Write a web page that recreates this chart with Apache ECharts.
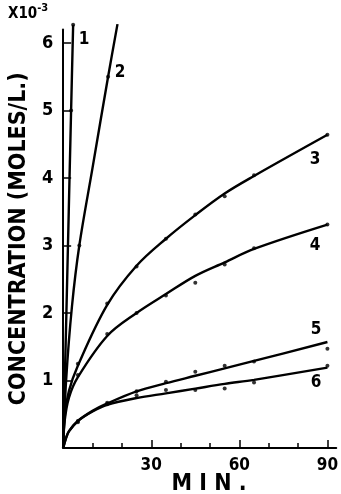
<!DOCTYPE html>
<html lang="en">
<head>
    <meta charset="UTF-8">
    <title>Concentration vs time</title>
    <script type="text/javascript" src="https://cdn.jsdelivr.net/npm/echarts@6/dist/echarts.min.js"></script>
</head>
<body style="margin:0">
    <div id="main" style="width: 341px; height: 494px;"></div>
    <script type="text/javascript">
        // minutes / concentration (x10^-3 mol/L)
        var curve1Time = [0, 1.1, 2.7, 3.4];
        var curve1Line = [0, 2.0, 5.0, 6.27];
        var curve1DotTime = [2.7, 3.4];
        var curve1Dots = [5.0, 6.27];

        var curve2Time = [0, 1, 3, 5.5, 10, 15.3, 18.5];
        var curve2Line = [0, 1.0, 2.1, 3.0, 4.15, 5.5, 6.28];
        var curve2DotTime = [5.5, 15.3];
        var curve2Dots = [3.0, 5.5];

        var curve34Time = [0, 0.5, 2, 5, 15, 25, 35, 45, 55, 65, 90];
        var curve3Line = [0, 0.45, 0.85, 1.22, 2.12, 2.7, 3.1, 3.45, 3.77, 4.03, 4.64];
        var curve4Line = [0, 0.4, 0.75, 1.05, 1.66, 2.0, 2.28, 2.55, 2.75, 2.95, 3.31];

        var curve56Time = [0, 1, 2, 5, 10, 15, 25, 35, 45, 55, 65, 90];
        var curve5Line = [0, 0.15, 0.25, 0.4, 0.55, 0.66, 0.84, 0.96, 1.07, 1.18, 1.29, 1.57];
        var curve6Line = [0, 0.15, 0.25, 0.4, 0.54, 0.64, 0.74, 0.81, 0.88, 0.95, 1.01, 1.19];

        var dotTime = [5, 15, 25, 35, 45, 55, 65, 90];
        var curve3Dots = [1.25, 2.14, 2.69, 3.10, 3.46, 3.73, 4.04, 4.64];
        var curve4Dots = [1.08, 1.69, 2.0, 2.26, 2.45, 2.72, 2.96, 3.31];
        var curve5Dots = [0.4, 0.67, 0.84, 0.98, 1.13, 1.22, 1.28, 1.47];
        var curve6Dots = [0.38, 0.65, 0.78, 0.86, 0.86, 0.88, 0.97, 1.22];

        var yTicks = [1, 2, 3, 4, 5, 6];
        var xMajor = [30, 60, 90];
        var xMinor = [10, 20, 40, 50, 70, 80];

        var font = "'Liberation Sans Narrow', 'DejaVu Sans Condensed', 'Liberation Sans', sans-serif";

        function pairs(xs, ys) {
            return xs.map(function(x, i) { return [x, ys[i]]; });
        }

        function lineSeries(xs, ys) {
            return {
                type: 'line',
                data: pairs(xs, ys),
                smooth: 0.35,
                showSymbol: false,
                clip: false,
                lineStyle: { color: '#000', width: 2.4 },
                silent: true
            };
        }

        function dotSeries(xs, ys) {
            return {
                type: 'scatter',
                data: pairs(xs, ys),
                symbolSize: 4,
                clip: false,
                itemStyle: { color: '#000' },
                silent: true
            };
        }

        var chartDom = document.getElementById('main');
        var myChart = echarts.init(chartDom);
        var option;

        option = {
            animation: false,
            backgroundColor: '#fff',
            grid: { left: 61, right: 4, top: 29.5, bottom: 46 },
            xAxis: [{
                type: 'value',
                min: 0,
                max: 93,
                splitLine: { show: false },
                axisLine: { lineStyle: { color: '#000', width: 2 } },
                axisTick: { inside: true, length: 8, lineStyle: { color: '#000', width: 1.5 }, customValues: xMajor },
                axisLabel: { customValues: xMajor, color: '#000', fontSize: 17, fontWeight: 'bold', fontFamily: font, margin: 9 }
            }, {
                type: 'value',
                position: 'bottom',
                min: 0,
                max: 93,
                splitLine: { show: false },
                axisLine: { show: false },
                axisTick: { inside: true, length: 5, lineStyle: { color: '#000', width: 1.5 }, customValues: xMinor },
                axisLabel: { show: false }
            }],
            yAxis: {
                type: 'value',
                min: 0,
                max: 6.2,
                splitLine: { show: false },
                axisLine: { lineStyle: { color: '#000', width: 2 } },
                axisTick: { inside: true, length: 8, lineStyle: { color: '#000', width: 1.5 }, customValues: yTicks },
                axisLabel: { customValues: yTicks, color: '#000', fontSize: 18, fontWeight: 'bold', fontFamily: font, margin: 10 },
                name: 'CONCENTRATION (MOLES/L.)',
                nameLocation: 'middle',
                nameGap: 30,
                nameTextStyle: { color: '#000', fontSize: 23, fontWeight: 'bold', fontFamily: font }
            },
            graphic: [
                {
                    type: 'text', left: 8, top: 3,
                    style: {
                        text: '{a|X10}{b|-3}',
                        rich: {
                            a: { fontSize: 15, fontWeight: 'bold', fontFamily: font, fill: '#000', padding: [6, 0, 0, 0] },
                            b: { fontSize: 11, fontWeight: 'bold', fontFamily: font, fill: '#000', padding: [0, 0, 6, 0] }
                        }
                    }
                },
                { type: 'text', x: 84, y: 40, style: { text: '1', fontSize: 17, fontWeight: 'bold', fontFamily: font, fill: '#000', align: 'center', verticalAlign: 'middle' } },
                { type: 'text', x: 120, y: 73, style: { text: '2', fontSize: 17, fontWeight: 'bold', fontFamily: font, fill: '#000', align: 'center', verticalAlign: 'middle' } },
                { type: 'text', x: 315, y: 160, style: { text: '3', fontSize: 17, fontWeight: 'bold', fontFamily: font, fill: '#000', align: 'center', verticalAlign: 'middle' } },
                { type: 'text', x: 315, y: 246, style: { text: '4', fontSize: 17, fontWeight: 'bold', fontFamily: font, fill: '#000', align: 'center', verticalAlign: 'middle' } },
                { type: 'text', x: 316, y: 330, style: { text: '5', fontSize: 17, fontWeight: 'bold', fontFamily: font, fill: '#000', align: 'center', verticalAlign: 'middle' } },
                { type: 'text', x: 316, y: 383, style: { text: '6', fontSize: 17, fontWeight: 'bold', fontFamily: font, fill: '#000', align: 'center', verticalAlign: 'middle' } },
                { type: 'text', x: 209, y: 484, style: { text: 'M I N .', fontSize: 23, fontWeight: 'bold', fontFamily: font, fill: '#000', align: 'center', verticalAlign: 'middle' } }
            ],
            series: [
                lineSeries(curve1Time, curve1Line),
                dotSeries(curve1DotTime, curve1Dots),
                lineSeries(curve2Time, curve2Line),
                dotSeries(curve2DotTime, curve2Dots),
                lineSeries(curve34Time, curve3Line),
                dotSeries(dotTime, curve3Dots),
                lineSeries(curve34Time, curve4Line),
                dotSeries(dotTime, curve4Dots),
                lineSeries(curve56Time, curve5Line),
                dotSeries(dotTime, curve5Dots),
                lineSeries(curve56Time, curve6Line),
                dotSeries(dotTime, curve6Dots)
            ]
        };

        option && myChart.setOption(option);
    </script>
</body>
</html>
